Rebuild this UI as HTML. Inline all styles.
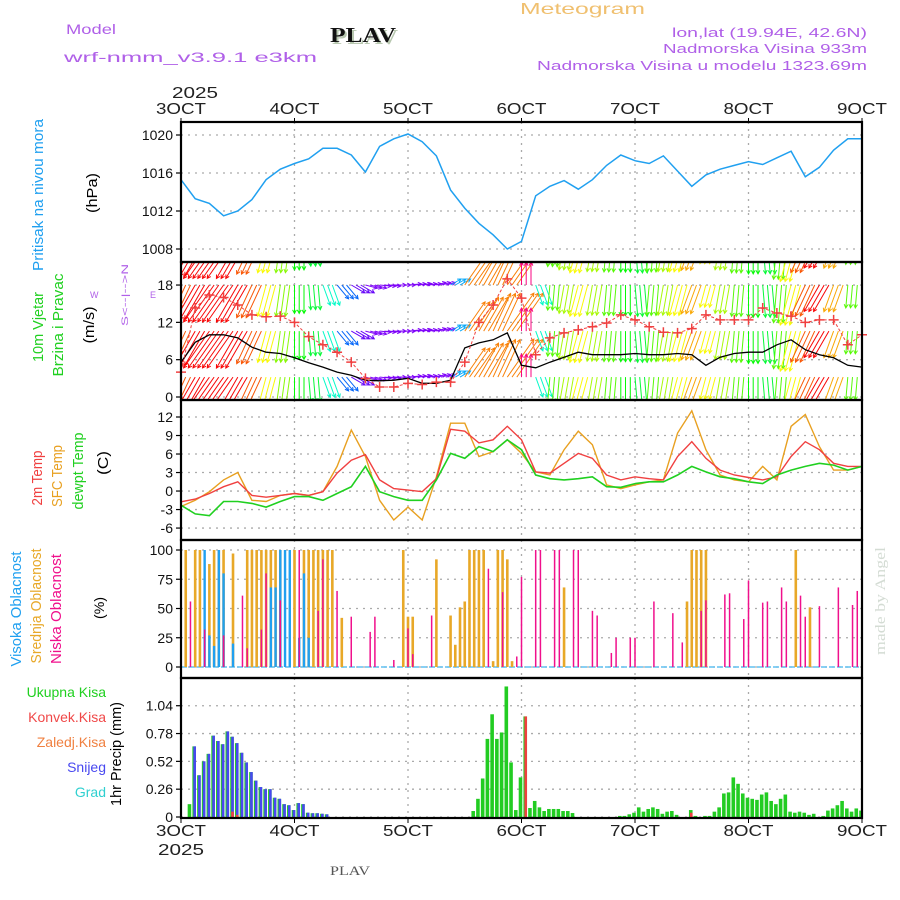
<!DOCTYPE html>
<html><head><meta charset="utf-8"><style>
html,body{margin:0;padding:0;background:#fff;width:900px;height:900px;overflow:hidden}
svg text{font-family:"Liberation Sans",sans-serif}
</style></head><body>
<svg id="chart" width="900" height="900" viewBox="0 0 900 900" xmlns="http://www.w3.org/2000/svg">
<defs>
<clipPath id="c2"><rect x="181" y="263" width="681" height="136"/></clipPath>
</defs>
<g>
<text x="66" y="34" font-size="14" fill="#b060e8" textLength="50" lengthAdjust="spacingAndGlyphs">Model</text>
<text x="64" y="62" font-size="14" fill="#b060e8" textLength="253" lengthAdjust="spacingAndGlyphs">wrf-nmm_v3.9.1  e3km</text>
<text x="332" y="44" font-size="21" font-weight="bold" fill="#b8c8b0" style="font-family:'Liberation Serif',serif" textLength="66" lengthAdjust="spacingAndGlyphs">PLAV</text>
<text x="330" y="42" font-size="21" font-weight="bold" fill="#111" style="font-family:'Liberation Serif',serif" textLength="66" lengthAdjust="spacingAndGlyphs">PLAV</text>
<text x="520" y="14" font-size="16" fill="#f0c070" textLength="125" lengthAdjust="spacingAndGlyphs">Meteogram</text>
<text x="867" y="37" font-size="13" fill="#b060e8" text-anchor="end" textLength="195" lengthAdjust="spacingAndGlyphs">lon,lat (19.94E, 42.6N)</text>
<text x="867" y="53" font-size="13" fill="#b060e8" text-anchor="end" textLength="204" lengthAdjust="spacingAndGlyphs">Nadmorska Visina 933m</text>
<text x="867" y="70" font-size="13" fill="#b060e8" text-anchor="end" textLength="330" lengthAdjust="spacingAndGlyphs">Nadmorska Visina u modelu 1323.69m</text>
<text x="172" y="98" font-size="16" fill="#222" textLength="46" lengthAdjust="spacingAndGlyphs">2025</text>
<text x="158" y="855" font-size="16" fill="#222" textLength="46" lengthAdjust="spacingAndGlyphs">2025</text>
<text x="330" y="875" font-size="13" fill="#555" style="font-family:'Liberation Serif',serif" textLength="40" lengthAdjust="spacingAndGlyphs">PLAV</text>
<text transform="translate(885,655) rotate(-90)" font-size="15" fill="#d4dcd4" style="font-family:'Liberation Serif',serif" textLength="108" lengthAdjust="spacingAndGlyphs">made by Angel</text>
</g>
<g id="grid"></g>
<g id="marks"></g>
<g id="frames"></g>
<g id="labels"></g>
</svg>
<script>
// ---- data (3-hourly, k = 0..48, hours 0..144) ----
const dayLabels = ["3OCT","4OCT","5OCT","6OCT","7OCT","8OCT","9OCT"];
const pressure = [1015.3,1013.3,1012.8,1011.5,1012.0,1013.2,1015.3,1016.4,1017.0,1017.5,1018.6,1018.6,1017.9,1016.1,1018.8,1019.6,1020.1,1019.3,1017.8,1014.2,1012.3,1010.7,1009.5,1008.0,1008.8,1013.6,1014.6,1015.2,1014.3,1015.3,1016.8,1017.9,1017.3,1017.0,1017.8,1016.2,1014.6,1015.8,1016.4,1016.8,1017.2,1016.9,1017.6,1018.3,1015.6,1016.6,1018.4,1019.6,1019.6];
const windSpeed = [5.6,8.8,10,10,9.5,8,7.2,7,6.3,5.5,4.8,4,3.5,2.7,2.6,2.7,3,2.2,2.2,2.7,7.9,8.7,9.2,10.3,5.1,4.7,5.6,6.4,7.2,6.8,6.8,6.8,7,6.8,6.8,7,6.8,5.1,6.4,7,7.2,7.2,8.4,9.2,7.6,6.8,6.3,5.1,4.8];
const windGust = [4,14.3,16.4,16,14.8,13.2,12.9,13,12,9.7,8.4,7.2,5.6,3,1.6,1.6,2.2,2,2.4,2.4,5.6,12,14.8,19,15.9,6.8,9.5,10.3,10.8,11.3,11.9,13.2,12.4,11.3,10.4,10.3,11,13.2,12.4,12.4,12.4,14.3,13.5,13,12,12.4,12.4,8.4,10];
const windDir = [25,30,35,35,30,25,15,8,0,355,340,320,300,285,275,270,265,262,255,240,215,210,205,215,180,340,5,10,15,10,5,0,355,5,10,15,20,15,10,5,0,355,5,15,25,30,20,5,350];
const temp2m = [-1.75,-1.3,-0.4,0.7,1.5,-0.7,-1,-0.7,-0.4,-0.7,-0.1,2.9,5,5.9,1.8,0.4,0.15,-0.1,2,10,9.7,7.8,8.3,10.5,8.3,3.1,2.9,4.5,6.1,5.3,2.6,1.8,2.3,2,1.8,5.6,8,5.3,3.4,2.6,2.2,1.8,2.3,5.6,8,6.7,4.5,4,4];
const tempSfc = [-2.5,-1.5,-0.1,1.8,3,-1.5,-1.7,-0.7,-0.4,-0.7,-0.1,4,9.9,5.6,-1.5,-4.7,-2.6,-4.7,2.3,11,11,5.6,6.4,8.3,6.1,3.1,2.6,6.7,9.7,7.5,1,0.4,1,1.5,1.8,9.4,13,6.7,2.6,1.8,1.5,4,1.8,10.5,12.4,7.2,3.4,3.4,4];
const dewpoint = [-2.3,-3.7,-4,-1.7,-1.7,-2,-2.6,-1.7,-0.9,-0.9,-1.5,-0.4,0.7,4,-0.1,-0.9,-1.5,-1.5,1.8,6.1,5.3,7.2,6.4,8.3,6.7,2.6,2,1.8,2,2.3,0.7,0.6,1.2,1.5,1.5,2.6,4,3.1,2.3,2,1.5,1.2,2.6,3.4,4,4.5,4.2,3.4,4];
// cloud cover bars (hour, %)
const midHours = [1,3,4,6,7,8,9,11,14,15,16,17,18,19,20,21,24,26,27,28,29,30,31,32,34,47,48,49,54,57,58,59,60,61,62,63,64,66,67,68,69,70,81,107,108,109,110,111,130,133];
const midVals  = [100,100,100,88,100,100,100,97,100,100,100,100,100,100,100,100,100,100,100,100,100,100,100,100,42,100,43,43,92,44,19,51,56,100,100,100,100,5,100,100,92,5,68,56,100,100,100,100,100,51];
const highHours = [5,6,7,8,9,11,19,20,21,22,23,25,26,27];
const highVals  = [100,27,18,100,80,20,68,68,100,100,100,25,80,25];
const lowHours = [2,5,9,13,14,17,18,21,25,29,30,33,36,40,41,45,48,49,53,65,68,71,72,75,76,79,80,83,84,87,88,91,92,95,96,100,104,106,110,111,115,116,119,120,123,124,127,128,131,132,135,139,142,143];
const lowVals  = [56,32,27,61,16,32,80,57,100,48,92,65,43,30,43,6,33,11,44,84,64,9,77,100,100,100,100,100,100,48,44,12,25,25,25,56,46,21,48,57,62,63,41,74,55,56,68,56,61,43,52,68,53,65];
// precipitation (hour, mm)
const precipHours = [2,3,4,5,6,7,8,9,10,11,12,13,14,15,16,17,18,19,20,21,22,23,24,25,26,27,28,29,30,31,
 62,63,64,65,66,67,68,69,70,71,72,73,74,75,76,77,78,79,80,81,82,83,
 93,94,95,96,97,98,99,100,101,102,103,104,105,108,109,111,112,113,114,115,116,117,118,119,120,121,122,123,124,125,126,127,128,129,130,131,132,133,134,136,137,138,139,140,141,142,143,144];
const precipTotal = [0.12,0.66,0.39,0.52,0.59,0.76,0.71,0.68,0.80,0.75,0.69,0.60,0.51,0.42,0.34,0.28,0.26,0.26,0.18,0.17,0.12,0.11,0.065,0.13,0.12,0.04,0.035,0.035,0.03,0.025,
 0.056,0.17,0.36,0.73,0.96,0.73,0.79,1.22,0.51,0.065,0.37,0.94,0.084,0.15,0.09,0.056,0.075,0.075,0.075,0.056,0.056,0.037,
 0.01,0.01,0.025,0.04,0.09,0.05,0.075,0.09,0.075,0.03,0.05,0.056,0.02,0.065,0.01,0.01,0.01,0.05,0.09,0.22,0.23,0.37,0.31,0.22,0.18,0.17,0.16,0.21,0.23,0.15,0.12,0.17,0.21,0.05,0.04,0.05,0.04,0.02,0.03,0.01,0.06,0.08,0.11,0.15,0.08,0.05,0.08,0.06];
const snowHours = [3,4,5,6,7,8,9,10,11,12,13,14,15,16,17,18,19,20,21,22,23,24,25,26,27,28,29,30,31];
const snowVals  = [0.66,0.39,0.52,0.59,0.76,0.71,0.68,0.80,0.75,0.69,0.60,0.51,0.42,0.34,0.28,0.26,0.26,0.18,0.17,0.12,0.11,0.065,0.13,0.12,0.04,0.035,0.035,0.03,0.025];
const convHours = [11,12,73,108];
const convVals  = [0.05,0.02,0.94,0.04];

// ---- axes ----
const X0=181, X1=862, HOURS=144;
const xOf = h => X0 + h*(X1-X0)/HOURS;
const kHour = k => k*3;
const P = [
 {top:122,bot:262,y:v=>135+(1020-v)*9.5,ticks:[1008,1012,1016,1020],lab:v=>String(v)},
 {top:262,bot:400,y:v=>397-v*6.22,ticks:[0,6,12,18],lab:v=>String(v)},
 {top:400,bot:540,y:v=>417+(12-v)*6.17,ticks:[-6,-3,0,3,6,9,12],lab:v=>String(v)},
 {top:540,bot:678,y:v=>667-v*1.17,ticks:[0,25,50,75,100],lab:v=>String(v)},
 {top:678,bot:818,y:v=>817-v*107,ticks:[0,0.26,0.52,0.78,1.04],lab:v=>v===0?"0":v.toFixed(2)}
];
const NS="http://www.w3.org/2000/svg";
function mk(tag, attrs, parent){const e=document.createElementNS(NS,tag);for(const a in attrs)e.setAttribute(a,attrs[a]);parent.appendChild(e);return e;}
const grid=document.getElementById('grid'), marks=document.getElementById('marks'), frames=document.getElementById('frames'), labels=document.getElementById('labels');

P.forEach((p,pi)=>{
  for(let d=1;d<6;d++){
    const gl=mk('line',{x1:xOf(d*24),x2:xOf(d*24),y1:p.top,y2:p.bot,stroke:'#aaa','stroke-width':1.3,'stroke-dasharray':'2,5'},grid);
    
    
  }
  p.ticks.forEach(v=>{
    const y=p.y(v);
    const hl=mk('line',{x1:X0,x2:X1,y1:y,y2:y,stroke:'#aaa','stroke-width':1.3,'stroke-dasharray':'2,5'},grid);
    
    
    mk('line',{x1:X0-5,x2:X0,y1:y,y2:y,stroke:'#000','stroke-width':1.2},frames);
    const t=mk('text',{x:X0-8,y:y+5,'font-size':14,'text-anchor':'end',fill:'#111'},labels);
    t.textContent=p.lab(v);
    
    
  });
  const fr=mk('rect',{x:X0,y:p.top,width:X1-X0,height:p.bot-p.top,fill:'none',stroke:'#000','stroke-width':2.2},frames);
  
  
});
// day labels top & bottom
dayLabels.forEach((d,i)=>{
  const x=xOf(i*24);
  const t1=mk('text',{x:x,y:114,'font-size':16,'text-anchor':'middle',fill:'#222',textLength:50,lengthAdjust:'spacingAndGlyphs'},labels);
  t1.textContent=d;
  
  
  mk('line',{x1:x,x2:x,y1:118,y2:122,stroke:'#000'},frames);
  const t2=mk('text',{x:x,y:836,'font-size':16,'text-anchor':'middle',fill:'#222',textLength:50,lengthAdjust:'spacingAndGlyphs'},labels);
  t2.textContent=d;
  
  
  mk('line',{x1:x,x2:x,y1:818,y2:823,stroke:'#000'},frames);
});
function line(vals, p, color, name, w){
  const pts=vals.map((v,k)=>xOf(kHour(k)).toFixed(1)+','+p.y(v).toFixed(1)).join(' ');
  const e=mk('polyline',{points:pts,fill:'none',stroke:color,'stroke-width':w||1.4},marks);
  
  
  return e;
}
// panel 1
line(pressure,P[0],'#20a0f0','pressure-line',1.5);
// panel 2 wind arrows
function windColor(d){
  let h;
  if(d<=60) h=Math.max(0,120-d*4);
  else if(d>=300) h=120+(360-d)*2.4;
  else if(d>=250) h=270;
  else if(d>=225) h=200;
  else if(d>190) h=30;
  else h=330;
  return 'hsl('+h+',95%,50%)';
}
const arrowG=mk('g',{'clip-path':'url(#c2)'},marks);


const rowVals=[25,18,10.6,3.2];
for(let k=0;k<windDir.length;k++){
  for(let j=0;j<3;j++){
    const h=kHour(k)+j; if(h>HOURS) continue;
    const th=(windDir[k]+180)*Math.PI/180, L=4.5*windSpeed[k];
    const col=windColor(windDir[k]);
    rowVals.forEach(rv=>{
      const x=xOf(h), y=P[1].y(rv);
      const x2=x+L*Math.sin(th), y2=y-L*Math.cos(th);
      const a=mk('path',{d:`M${x.toFixed(1)},${y.toFixed(1)}L${x2.toFixed(1)},${y2.toFixed(1)}M${(x2-4*Math.sin(th-0.5)).toFixed(1)},${(y2+4*Math.cos(th-0.5)).toFixed(1)}L${x2.toFixed(1)},${y2.toFixed(1)}L${(x2-4*Math.sin(th+0.5)).toFixed(1)},${(y2+4*Math.cos(th+0.5)).toFixed(1)}`,stroke:col,'stroke-width':1,fill:'none'},arrowG);
      
      
    });
  }
}
line(windSpeed,P[1],'#000','wind-speed-line',1.3);
const gl=line(windGust,P[1],'#f04040','wind-gust-line',1);
gl.setAttribute('stroke-dasharray','3,2');
windGust.forEach((v,k)=>{
  const x=xOf(kHour(k)), y=P[1].y(v);
  const c=mk('path',{d:`M${x-5},${y}H${x+5}M${x},${y-5}V${y+5}`,stroke:'#f04040','stroke-width':1.5},marks);
  
  
});
// panel 3
line(tempSfc,P[2],'#e8a020','sfc-temp-line',1.4);
line(temp2m,P[2],'#f04040','temp-2m-line',1.4);
line(dewpoint,P[2],'#20d020','dewpoint-line',1.6);
// panel 4 cloud bars
const base4=mk('line',{x1:X0,x2:X1,y1:P[3].y(0),y2:P[3].y(0),stroke:'#60c0f0','stroke-width':1.5,'stroke-dasharray':'6,2'},marks);


function cbars(hours,vals,color,w,name){
  hours.forEach((h,i)=>{
    const x=xOf(h), y=P[3].y(vals[i]);
    const r=mk('rect',{x:x-w/2,y:y,width:w,height:P[3].y(0)-y,fill:color},marks);
    
    
  });
}
cbars(midHours,midVals,'#e8a828',2.6,'mid-cloud-bar');
cbars(highHours,highVals,'#20a0f0',2.4,'high-cloud-bar');
cbars(lowHours,lowVals,'#f0108c',1.5,'low-cloud-bar');
// panel 5 precip
function pbars(hours,vals,color,w,off,name){
  hours.forEach((h,i)=>{
    const x=xOf(h)+off, y=P[4].y(vals[i]);
    const r=mk('rect',{x:x-w/2,y:y,width:w,height:P[4].y(0)-y,fill:color},marks);
    
    
  });
}
pbars(precipHours,precipTotal,'#22cc22',3.6,-1,'total-precip-bar');
pbars(snowHours,snowVals,'#4848f0',2.6,-0.5,'snow-bar');
pbars(convHours,convVals,'#f04040',2.6,-0.5,'convective-precip-bar');
// y-axis titles
function vtext(txt,x,cy,color,size,len,name){
  const t=mk('text',{transform:`translate(${x},${cy}) rotate(-90)`,'font-size':size,'text-anchor':'middle',fill:color,textLength:len,lengthAdjust:'spacingAndGlyphs'},labels);
  t.textContent=txt;
  
  
}
vtext('Pritisak na nivou mora',43,195,'#20a0f0',15,152,'pressure-axis-title');
vtext('(hPa)',97,193,'#000',15,40,'pressure-unit');
vtext('10m Vjetar',43,327,'#20d020',15,70,'wind-axis-title');
vtext('Brzina i Pravac',63,325,'#20d020',15,103,'wind-axis-subtitle');
vtext('(m/s)',94,325,'#000',15,37,'wind-unit');
vtext('2m Temp',42,478,'#f04040',15,55,'temp-2m-title');
vtext('SFC Temp',62,476,'#e8a020',15,62,'sfc-temp-title');
vtext('dewpt Temp',83,471,'#20d020',15,77,'dewpoint-title');
vtext('(C)',108,463,'#000',15,24,'temp-unit');
vtext('Visoka Oblacnost',21,609,'#20a0f0',15,115,'high-cloud-title');
vtext('Srednja Oblacnost',41,606,'#e8a828',15,115,'mid-cloud-title');
vtext('Niska Oblacnost',61,609,'#f0108c',15,110,'low-cloud-title');
vtext('(%)',104,608,'#000',14,22,'cloud-unit');
vtext('1hr Precip (mm)',121,754,'#000',15,104,'precip-axis-title');
// compass legend
const cg=mk('g',{},labels);


const cl=mk('text',{transform:'translate(128,295) rotate(-90)','font-size':9,'text-anchor':'middle',fill:'#b060e8',textLength:62,lengthAdjust:'spacingAndGlyphs'},cg);
cl.textContent='S<--|-->N';
const cw=mk('text',{x:90,y:298,'font-size':9,fill:'#b060e8'},cg);
cw.textContent='W';
const ce=mk('text',{x:150,y:298,'font-size':9,fill:'#b060e8'},cg);
ce.textContent='E';
// precip legend
const legend=[['Ukupna Kisa','#20d020',697,'legend-total-precip'],['Konvek.Kisa','#f04848',722,'legend-convective'],['Zaledj.Kisa','#f08040',747,'legend-freezing'],['Snijeg','#4848f0',772,'legend-snow'],['Grad','#30d0d0',797,'legend-hail']];
legend.forEach(l=>{
  const t=mk('text',{x:106,y:l[2],'font-size':14,'text-anchor':'end',fill:l[1]},labels);
  t.textContent=l[0];
  
  
});
</script>
</body></html>
